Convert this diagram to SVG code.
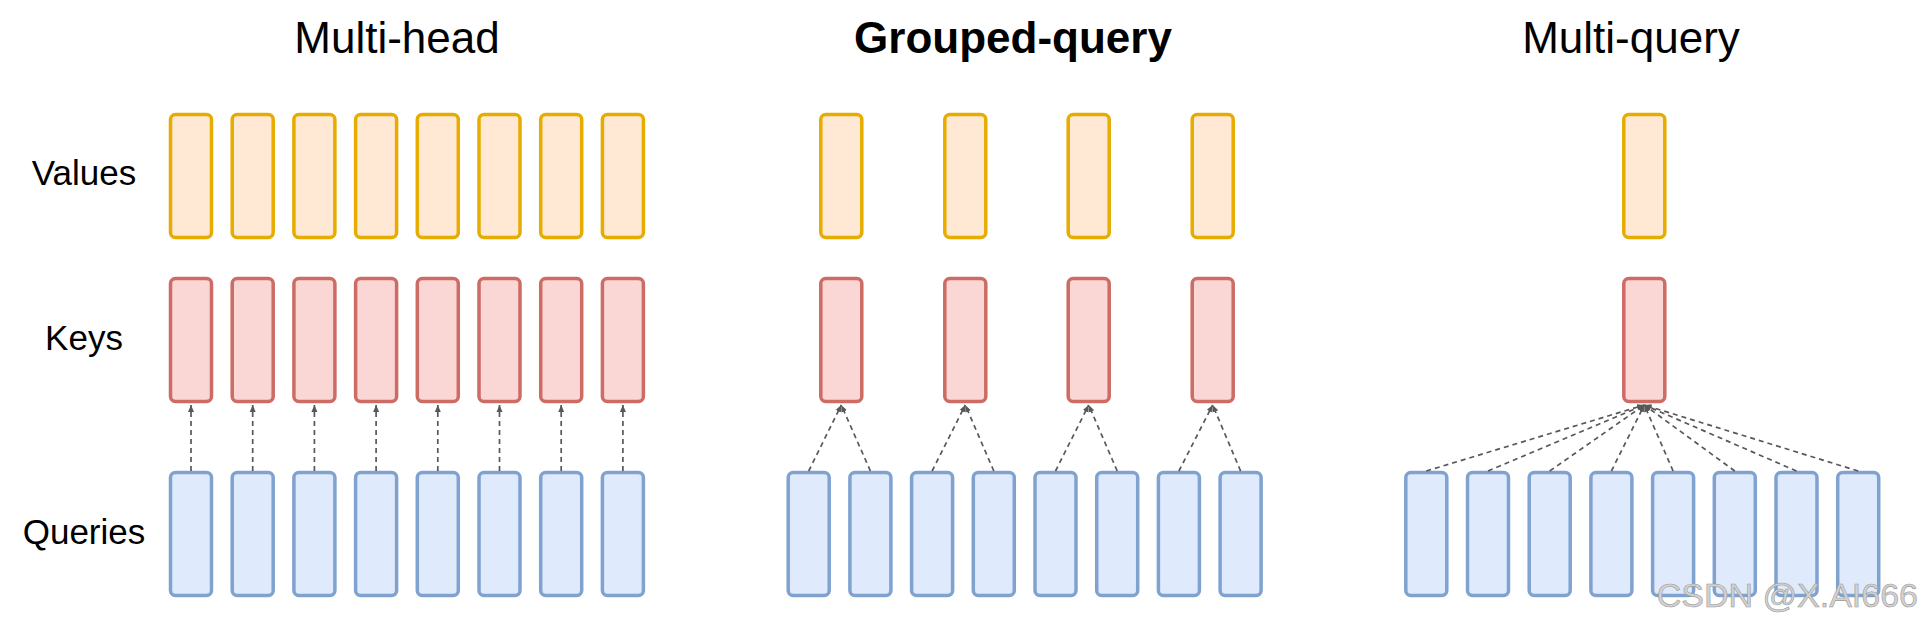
<svg xmlns="http://www.w3.org/2000/svg" width="1924" height="628" viewBox="0 0 1924 628">
<style>
.t{font-family:"Liberation Sans",Arial,sans-serif;fill:#000}
.title{font-size:44px;text-anchor:middle}
.lbl{font-size:35px;text-anchor:middle}
.v{fill:#ffe9d4;stroke:#e6ac00;stroke-width:3.5}
.k{fill:#fad7d5;stroke:#cd6b65;stroke-width:3.5}
.q{fill:#dfebfc;stroke:#7fa2cf;stroke-width:3.5}
.c{fill:none;stroke:#585858;stroke-width:1.7;stroke-dasharray:5 4;marker-end:url(#ah)}
.wm{font-family:"Liberation Sans",Arial,sans-serif;font-size:34px;text-anchor:end;fill:#d2d2d2;stroke:#9a9a9a;stroke-width:0.6}
</style>
<defs>
<marker id="ah" markerUnits="userSpaceOnUse" markerWidth="8" markerHeight="8" viewBox="0 0 8 8" refX="7" refY="4" orient="auto">
<path d="M0,1 L7,4 L0,7 Z" fill="#585858"/>
</marker>
<rect id="rv" class="v" width="41" height="123" rx="5"/>
<rect id="rk" class="k" width="41" height="123" rx="5"/>
<rect id="rq" class="q" width="41" height="123" rx="5"/>
</defs>
<rect width="1924" height="628" fill="#fff"/>

<g id="titles">
<text class="t title" x="397" y="53">Multi-head</text>
<text class="t title" x="1013" y="53" font-weight="bold">Grouped-query</text>
<text class="t title" x="1631" y="53">Multi-query</text>
</g>
<g id="row-labels">
<text class="t lbl" x="84" y="185">Values</text>
<text class="t lbl" x="84" y="350">Keys</text>
<text class="t lbl" x="84" y="544">Queries</text>
</g>

<g id="multi-head">
<g id="mh-values">
<use href="#rv" x="170.5" y="114.5"/><use href="#rv" x="232.2" y="114.5"/><use href="#rv" x="293.9" y="114.5"/><use href="#rv" x="355.6" y="114.5"/>
<use href="#rv" x="417.3" y="114.5"/><use href="#rv" x="479" y="114.5"/><use href="#rv" x="540.7" y="114.5"/><use href="#rv" x="602.4" y="114.5"/>
</g>
<g id="mh-keys">
<use href="#rk" x="170.5" y="278.5"/><use href="#rk" x="232.2" y="278.5"/><use href="#rk" x="293.9" y="278.5"/><use href="#rk" x="355.6" y="278.5"/>
<use href="#rk" x="417.3" y="278.5"/><use href="#rk" x="479" y="278.5"/><use href="#rk" x="540.7" y="278.5"/><use href="#rk" x="602.4" y="278.5"/>
</g>
<g id="mh-queries">
<use href="#rq" x="170.5" y="472.5"/><use href="#rq" x="232.2" y="472.5"/><use href="#rq" x="293.9" y="472.5"/><use href="#rq" x="355.6" y="472.5"/>
<use href="#rq" x="417.3" y="472.5"/><use href="#rq" x="479" y="472.5"/><use href="#rq" x="540.7" y="472.5"/><use href="#rq" x="602.4" y="472.5"/>
</g>
</g>

<g id="grouped-query">
<g id="gq-values">
<use href="#rv" x="820.8" y="114.5"/><use href="#rv" x="944.8" y="114.5"/><use href="#rv" x="1068.2" y="114.5"/><use href="#rv" x="1192.2" y="114.5"/>
</g>
<g id="gq-keys">
<use href="#rk" x="820.8" y="278.5"/><use href="#rk" x="944.8" y="278.5"/><use href="#rk" x="1068.2" y="278.5"/><use href="#rk" x="1192.2" y="278.5"/>
</g>
<g id="gq-queries">
<use href="#rq" x="788.2" y="472.5"/><use href="#rq" x="849.9" y="472.5"/><use href="#rq" x="911.6" y="472.5"/><use href="#rq" x="973.3" y="472.5"/>
<use href="#rq" x="1035" y="472.5"/><use href="#rq" x="1096.7" y="472.5"/><use href="#rq" x="1158.4" y="472.5"/><use href="#rq" x="1220.1" y="472.5"/>
</g>
</g>

<g id="multi-query">
<g id="mq-value"><use href="#rv" x="1623.8" y="114.5"/></g>
<g id="mq-key"><use href="#rk" x="1623.8" y="278.5"/></g>
<g id="mq-queries">
<use href="#rq" x="1405.8" y="472.5"/><use href="#rq" x="1467.5" y="472.5"/><use href="#rq" x="1529.2" y="472.5"/><use href="#rq" x="1590.9" y="472.5"/>
<use href="#rq" x="1652.6" y="472.5"/><use href="#rq" x="1714.3" y="472.5"/><use href="#rq" x="1776" y="472.5"/><use href="#rq" x="1837.7" y="472.5"/>
</g>
</g>

<g id="connectors">
<path class="c" d="M191,471 L191,405"/>
<path class="c" d="M252.7,471 L252.7,405"/>
<path class="c" d="M314.4,471 L314.4,405"/>
<path class="c" d="M376.1,471 L376.1,405"/>
<path class="c" d="M437.8,471 L437.8,405"/>
<path class="c" d="M499.5,471 L499.5,405"/>
<path class="c" d="M561.2,471 L561.2,405"/>
<path class="c" d="M622.9,471 L622.9,405"/>

<path class="c" d="M808.7,471 L841.3,405"/>
<path class="c" d="M870.4,471 L841.3,405"/>
<path class="c" d="M932.1,471 L965.3,405"/>
<path class="c" d="M993.8,471 L965.3,405"/>
<path class="c" d="M1055.5,471 L1088.7,405"/>
<path class="c" d="M1117.2,471 L1088.7,405"/>
<path class="c" d="M1178.9,471 L1212.7,405"/>
<path class="c" d="M1240.6,471 L1212.7,405"/>

<path class="c" d="M1426.3,471 L1644.3,405"/>
<path class="c" d="M1488,471 L1644.3,405"/>
<path class="c" d="M1549.7,471 L1644.3,405"/>
<path class="c" d="M1611.4,471 L1644.3,405"/>
<path class="c" d="M1673.1,471 L1644.3,405"/>
<path class="c" d="M1734.8,471 L1644.3,405"/>
<path class="c" d="M1796.5,471 L1644.3,405"/>
<path class="c" d="M1858.2,471 L1644.3,405"/>
</g>

<text class="wm" x="1918" y="607">CSDN @X.AI666</text>
</svg>
